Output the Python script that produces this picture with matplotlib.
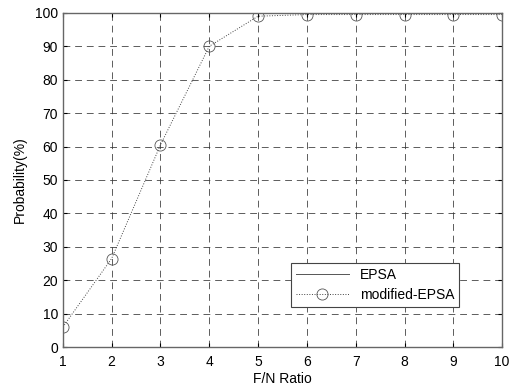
import matplotlib
matplotlib.use("Agg")
import matplotlib.pyplot as plt

plt.rcParams["font.family"] = ["Liberation Sans", "DejaVu Sans"]

ratio = [1, 2, 3, 4, 5, 6, 7, 8, 9, 10]
epsa = [100, 100, 100, 100, 100, 100, 100, 100, 100, 100]
modified_epsa = [6, 26.5, 60.5, 90, 99, 99.5, 99.5, 99.5, 99.5, 99.5]

fig = plt.figure(figsize=(5.15, 3.9), dpi=100)
ax = fig.add_axes([0.122, 0.110, 0.853, 0.857])

ax.plot(ratio, epsa, color="#555555", lw=0.7, label="EPSA")
ax.plot(ratio, modified_epsa, color="#444444", lw=0.7, ls=":", marker="o",
        markersize=8, markerfacecolor="none", markeredgecolor="#555555",
        markeredgewidth=0.6, label="modified-EPSA")

ax.set_xlim(1, 10)
ax.set_ylim(0, 100)
ax.set_xticks(range(1, 11))
ax.set_yticks(range(0, 101, 10))
ax.grid(True, color="#333333", ls=(0, (7, 5)), lw=0.7, alpha=0.8)
ax.tick_params(direction="in", labelsize=10, length=3, top=True, right=True)
ax.tick_params(axis="x", pad=6)
for s in ax.spines.values():
    s.set_color("#666666")
    s.set_linewidth(1.0)

ax.set_xlabel("F/N Ratio", fontsize=10, labelpad=2)
ax.set_ylabel("Probability(%)", fontsize=10, labelpad=6)

leg = ax.legend(loc="lower right", bbox_to_anchor=(0.918, 0.10), fontsize=10,
                fancybox=False, framealpha=1, edgecolor="#444444",
                handlelength=3.8, borderpad=0.35, labelspacing=0.45)
leg.get_frame().set_linewidth(0.8)

fig.savefig("out.png", dpi=100)
